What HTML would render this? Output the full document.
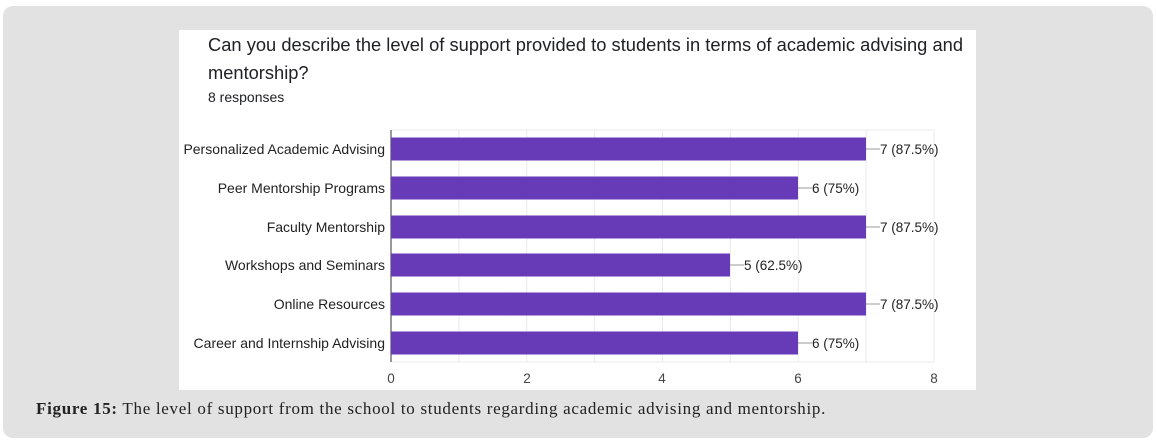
<!DOCTYPE html>
<html><head><style>
body{margin:0;width:1157px;height:441px;background:#fff;position:relative;overflow:hidden;font-family:"Liberation Sans",sans-serif}
.box{position:absolute;left:3px;top:6px;width:1150px;height:432px;background:#e2e2e2;border-radius:10px}
.chart{position:absolute;left:179px;top:30px;width:797px;height:360px;background:#fff}
.cap{position:absolute;left:36px;top:399px;font-family:"Liberation Serif",serif;font-size:17px;letter-spacing:0.7px;color:#222;white-space:nowrap}
</style></head><body>
<div class="box"></div>
<div class="chart"></div>
<svg style="position:absolute;left:0;top:0" width="1157" height="441" font-family="Liberation Sans, sans-serif">
<text x="208" y="51" font-size="18.3" fill="#202124" textLength="755">Can you describe the level of support provided to students in terms of academic advising and</text>
<text x="208" y="79" font-size="18.3" fill="#202124">mentorship?</text>
<text x="208" y="102" font-size="14" fill="#202124">8 responses</text>
<g stroke="#ebebeb" stroke-width="1">
<line x1="391" y1="130" x2="934" y2="130"/><line x1="391" y1="362" x2="934" y2="362"/>
<line x1="458.9" y1="130" x2="458.9" y2="362"/><line x1="526.8" y1="130" x2="526.8" y2="362"/>
<line x1="594.6" y1="130" x2="594.6" y2="362"/><line x1="662.5" y1="130" x2="662.5" y2="362"/>
<line x1="730.4" y1="130" x2="730.4" y2="362"/><line x1="798.3" y1="130" x2="798.3" y2="362"/>
<line x1="866.1" y1="130" x2="866.1" y2="362"/><line x1="934" y1="130" x2="934" y2="362"/>
</g>
<line x1="391" y1="130" x2="391" y2="362" stroke="#333"/>
<g fill="#673ab7">
<rect x="391" y="137.5" width="475" height="23"/>
<rect x="391" y="176.5" width="407" height="23"/>
<rect x="391" y="215.5" width="475" height="23"/>
<rect x="391" y="253.5" width="339" height="23"/>
<rect x="391" y="292.5" width="475" height="23"/>
<rect x="391" y="331.5" width="407" height="23"/>
</g>
<g stroke="#999"><line x1="866" y1="149" x2="880" y2="149"/><line x1="798" y1="188" x2="812" y2="188"/><line x1="866" y1="227" x2="880" y2="227"/><line x1="730" y1="265" x2="744" y2="265"/><line x1="866" y1="304" x2="880" y2="304"/><line x1="798" y1="343" x2="812" y2="343"/></g>
<g font-size="13.5" fill="#222">
<text x="880" y="154">7 (87.5%)</text><text x="812" y="193">6 (75%)</text><text x="880" y="232">7 (87.5%)</text><text x="744" y="270">5 (62.5%)</text><text x="880" y="309">7 (87.5%)</text><text x="812" y="348">6 (75%)</text>
</g>
<g font-size="14" fill="#222" text-anchor="end">
<text x="385" y="154">Personalized Academic Advising</text>
<text x="385" y="193">Peer Mentorship Programs</text>
<text x="385" y="232">Faculty Mentorship</text>
<text x="385" y="270">Workshops and Seminars</text>
<text x="385" y="309">Online Resources</text>
<text x="385" y="348">Career and Internship Advising</text>
</g>
<g font-size="13.5" fill="#444" text-anchor="middle">
<text x="391" y="383">0</text><text x="527" y="383">2</text><text x="662" y="383">4</text><text x="798" y="383">6</text><text x="934" y="383">8</text>
</g>
</svg>
<div class="cap"><b>Figure 15:</b> The level of support from the school to students regarding academic advising and mentorship.</div>
</body></html>
